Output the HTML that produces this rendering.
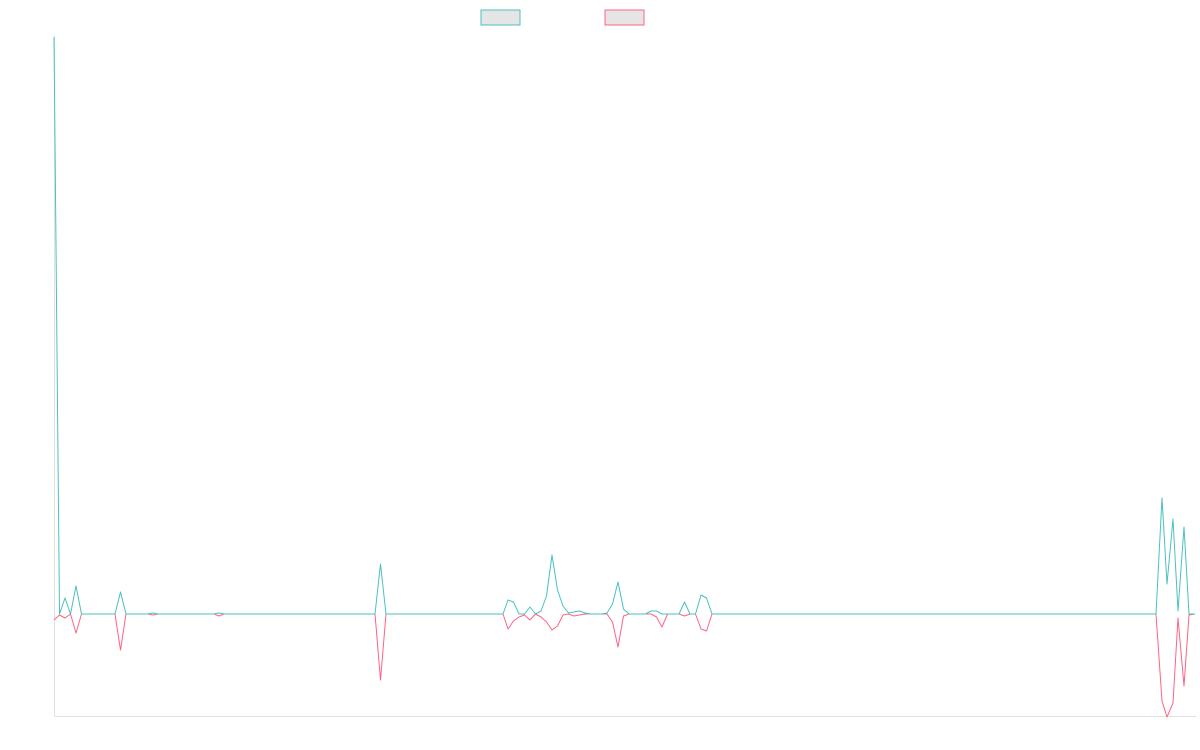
<!DOCTYPE html>
<html><head><meta charset="utf-8"><style>html,body{margin:0;padding:0;background:#fff;width:1200px;height:750px;overflow:hidden}</style></head>
<body>
<svg width="1200" height="750" xmlns="http://www.w3.org/2000/svg">
<line x1="54.5" y1="36" x2="54.5" y2="716" stroke="#e1e1e1" stroke-width="1"/>
<line x1="54" y1="716.5" x2="1196" y2="716.5" stroke="#e1e1e1" stroke-width="1"/>
<rect x="481" y="10" width="39" height="15" fill="#e5e5e5" stroke="rgb(75,192,192)" stroke-width="1"/>
<rect x="605" y="10" width="39" height="15" fill="#e5e5e5" stroke="rgb(255,99,132)" stroke-width="1"/>
<g fill="none" stroke-width="1" stroke-linejoin="round">
<polyline stroke="rgb(255,99,132)" points="54,620 59.5,615 65,618 70.5,614 76,633 81.5,614 115,614 120.5,650 126,614 148,614 153,615 158,614 214,614 219,616 224,614 375,614 380.5,680 386,614 503,614 508,629 513.5,621 519,617 524.5,615 530,620 535.5,614 541,617 546.5,622 552,630 557.5,626 563,615 568.5,614 574,616 579.5,615 585,614 607,614 612.5,622 618,647 623.5,616 629,614 651,614 656.5,617 662,627 667.5,614 679,614 684.5,616 690,614 695.5,614 701,629 706.5,631 712,614 1156,614 1162,701 1167,717 1173,703 1178,618 1184,686 1189,615 1195,614"/>
<polyline stroke="rgb(75,192,192)" points="54,37 59.5,614 65,598 70.5,614 76,586 81.5,614 115,614 120.5,592 126,614 148,614 153,613 158,614 214,614 219,613 224,614 375,614 380.5,564 386,614 503,614 508,600 513.5,602 519,614 524.5,614 530,607 535.5,614 541,611 546.5,596 552,555 557.5,590 563,606 568.5,613 574,612 579.5,611 585,613 590.5,614 601.5,614 607,613 612.5,604 618,582 623.5,609 629,614 645.5,614 651,611 656.5,611 662,614 679,614 684.5,602 690,614 695.5,614 701,595 706.5,598 712,614 1156,614 1162,498 1167,584 1173,519 1178,611 1184,527 1189,614 1195,614"/>
</g>
</svg>
</body></html>
